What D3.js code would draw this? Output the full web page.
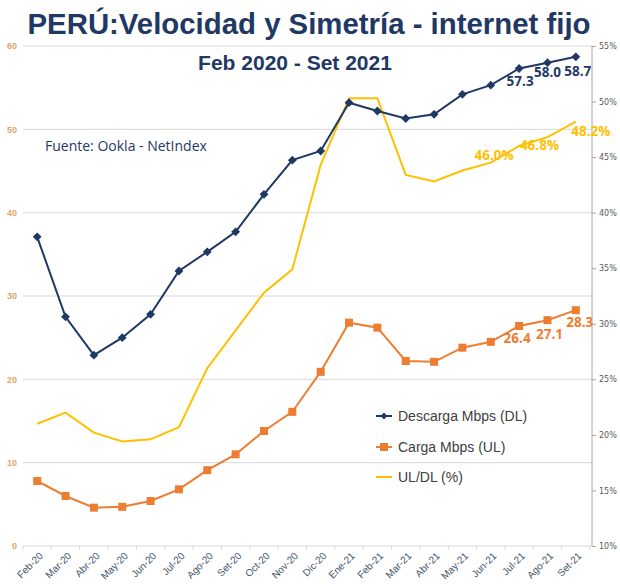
<!DOCTYPE html>
<html><head><meta charset="utf-8">
<script src="https://cdn.jsdelivr.net/npm/d3@7"></script>
<style>body{margin:0;background:#fff}svg{display:block}</style>
</head><body>
<svg id="c" width="620" height="588"></svg>
<script>
const months = ["Feb-20","Mar-20","Abr-20","May-20","Jun-20","Jul-20","Ago-20","Set-20","Oct-20","Nov-20","Dic-20","Ene-21","Feb-21","Mar-21","Abr-21","May-21","Jun-21","Jul-21","Ago-21","Set-21"];
const descarga = [37.1,27.5,22.9,25.0,27.8,33.0,35.3,37.7,42.2,46.3,47.4,53.2,52.2,51.3,51.8,54.2,55.3,57.3,58.0,58.7];
const carga = [7.8,6.0,4.6,4.7,5.4,6.8,9.1,11.0,13.8,16.1,20.9,26.8,26.2,22.2,22.1,23.8,24.5,26.4,27.1,28.3];
const ratio = [21.0,22.0,20.2,19.4,19.6,20.7,26.0,29.4,32.8,34.9,44.3,50.3,50.3,43.4,42.8,43.8,44.5,46.0,46.8,48.2];
const leftTicks = [0,10,20,30,40,50,60];
const rightTicks = [10,15,20,25,30,35,40,45,50,55];
const labeledIdx = [17,18,19];
const seriesNames = ["Descarga Mbps (DL)","Carga Mbps (UL)","UL/DL (%)"];

const C = {dl:"#1f3864", ul:"#ed7d31", r:"#ffc000", grid:"#d9d9d9"};
const svg = d3.select("#c");

const x = d3.scaleBand().domain(months).range([23,590]);
const cx = d => x(d) + x.bandwidth()/2;
const yL = d3.scaleLinear().domain([0,60]).range([546,46]);
const yR = d3.scaleLinear().domain([10,55]).range([546,46]);

// gridlines
svg.append("g").selectAll("line").data(leftTicks.filter(t=>t>0)).join("line")
  .attr("x1",23).attr("x2",592).attr("y1",d=>yL(d)).attr("y2",d=>yL(d))
  .attr("stroke",C.grid).attr("stroke-width",1);

// left axis labels
const gl = svg.append("g").attr("transform","translate(17,0)")
  .call(d3.axisLeft(yL).tickValues(leftTicks).tickSize(0).tickPadding(0));
gl.select(".domain").remove();
gl.selectAll("text").attr("fill","#e3a46f").attr("font-size",9).attr("font-family","Liberation Sans, Arial, sans-serif").attr("font-weight","bold");

// right axis
const gr = svg.append("g").attr("transform","translate(592,0)")
  .call(d3.axisRight(yR).tickValues(rightTicks).tickSize(4).tickPadding(3).tickFormat(d=>d+"%"));
gr.select(".domain").attr("stroke","#a6a6a6").attr("d","M0,46V546");
gr.selectAll(".tick line").attr("stroke","#a6a6a6");
gr.selectAll("text").attr("fill","#595959").attr("font-size",8).attr("font-family","DejaVu Sans, sans-serif");

// bottom axis
const gb = svg.append("g").attr("transform","translate(0,546)")
  .call(d3.axisBottom(x).tickSize(0).tickPadding(0));
gb.select(".domain").attr("stroke",C.grid).attr("d","M23,0H592");
gb.selectAll(".tick text")
  .attr("transform","translate(4,8) rotate(-45)")
  .attr("text-anchor","end").attr("dy","0.35em").attr("y",0)
  .attr("fill","#44546a").attr("font-size",10).attr("font-family","Liberation Sans, Arial, sans-serif");
svg.append("g").selectAll("line").data(months.concat(["_end"])).join("line")
  .attr("x1",(d,i)=>23+i*x.bandwidth()).attr("x2",(d,i)=>23+i*x.bandwidth())
  .attr("y1",546).attr("y2",550).attr("stroke",C.grid);

// lines
const lineR = d3.line().x((d,i)=>cx(months[i])).y(d=>yR(d));
const lineL = d3.line().x((d,i)=>cx(months[i])).y(d=>yL(d));
svg.append("path").attr("d",lineR(ratio)).attr("fill","none").attr("stroke",C.r).attr("stroke-width",2);
svg.append("path").attr("d",lineL(carga)).attr("fill","none").attr("stroke",C.ul).attr("stroke-width",2);
svg.append("path").attr("d",lineL(descarga)).attr("fill","none").attr("stroke",C.dl).attr("stroke-width",2);

// markers
svg.append("g").selectAll("rect").data(carga).join("rect")
  .attr("x",(d,i)=>cx(months[i])-4).attr("y",d=>yL(d)-4).attr("width",8).attr("height",8).attr("fill",C.ul);
const diamond = d3.symbol().type(d3.symbolDiamond2).size(50);
svg.append("g").selectAll("path").data(descarga).join("path")
  .attr("d",diamond).attr("transform",(d,i)=>`translate(${cx(months[i])},${yL(d)})`).attr("fill",C.dl);

// data labels
const lf = "Open Sans, DejaVu Sans, sans-serif";
const dlOff = [[1,17],[0,14],[2,19]];
const ulOff = [[-2,17],[2,19],[4,17]];
const rOff = [[-25,14],[-8,13],[15,14]];
labeledIdx.forEach((i,k)=>{
  svg.append("text").attr("x",cx(months[i])+dlOff[k][0]).attr("y",yL(descarga[i])+dlOff[k][1])
    .attr("text-anchor","middle").attr("font-family",lf).attr("font-weight","bold").attr("font-size",13.5)
    .attr("fill",C.dl).text(descarga[i].toFixed(1));
  svg.append("text").attr("x",cx(months[i])+ulOff[k][0]).attr("y",yL(carga[i])+ulOff[k][1])
    .attr("text-anchor","middle").attr("font-family",lf).attr("font-weight","bold").attr("font-size",13.5)
    .attr("fill",C.ul).text(carga[i].toFixed(1));
  svg.append("text").attr("x",cx(months[i])+rOff[k][0]).attr("y",yR(ratio[i])+rOff[k][1])
    .attr("text-anchor","middle").attr("font-family",lf).attr("font-weight","bold").attr("font-size",13.5)
    .attr("fill",C.r).text(ratio[i].toFixed(1)+"%");
});

// legend
const lg = svg.append("g").attr("font-family","Liberation Sans, Arial, sans-serif").attr("font-size",14).attr("fill","#404040");
const ly = [416,447,477], lc = [C.dl,C.ul,C.r];
seriesNames.forEach((n,i)=>{
  lg.append("line").attr("x1",376).attr("x2",392).attr("y1",ly[i]).attr("y2",ly[i]).attr("stroke",lc[i]).attr("stroke-width",2);
  if(i===0) lg.append("path").attr("d",d3.symbol().type(d3.symbolDiamond2).size(30)).attr("transform",`translate(384,${ly[i]})`).attr("fill",C.dl);
  if(i===1) lg.append("rect").attr("x",380).attr("y",ly[i]-4).attr("width",8).attr("height",8).attr("fill",C.ul);
  lg.append("text").attr("x",398).attr("y",ly[i]+5).text(n);
});

// titles
svg.append("text").attr("x",309).attr("y",34).attr("text-anchor","middle")
  .attr("font-family","Liberation Sans, Arial, sans-serif").attr("font-weight","bold").attr("font-size",30)
  .attr("fill","#1f3864").attr("textLength",563).attr("lengthAdjust","spacingAndGlyphs")
  .text("PERÚ:Velocidad y Simetría - internet fijo");
svg.append("text").attr("x",295).attr("y",70).attr("text-anchor","middle")
  .attr("font-family","Liberation Sans, Arial, sans-serif").attr("font-weight","bold").attr("font-size",21)
  .attr("fill","#1f3864").text("Feb 2020 - Set 2021");
svg.append("text").attr("x",45).attr("y",151)
  .attr("font-family","Open Sans, sans-serif").attr("font-size",14)
  .attr("fill","#1f3864").text("Fuente: Ookla - NetIndex");
</script>
</body></html>
